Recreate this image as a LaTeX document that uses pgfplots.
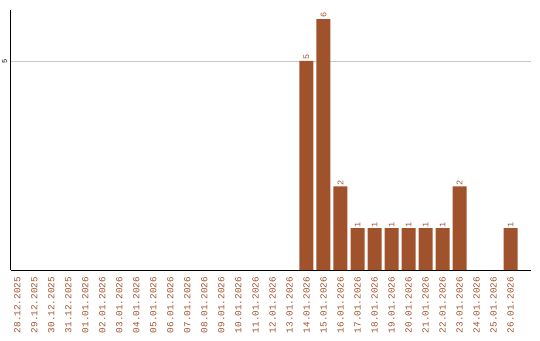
\documentclass[border=0pt]{standalone}
\usepackage{pgfplots}
\pgfplotsset{compat=1.18}
\usepackage{fontspec}
\setmainfont{Liberation Mono}
\definecolor{barc}{HTML}{A0522D}
\definecolor{gridc}{HTML}{C8C8C8}
\begin{document}
\begin{tikzpicture}
\path[use as bounding box] (0,0) rectangle (540pt,-340pt);
\begin{axis}[
  at={(10.5pt,-270pt)}, anchor=south west,
  scale only axis, width=520.5pt, height=260pt,
  xmin=-0.4, xmax=30.2, ymin=0, ymax=6.22,
  axis x line*=bottom, axis y line*=left,
  axis line style={black, thick, -},
  ytick={5}, yticklabel style={rotate=90, anchor=south, font=\fontsize{7}{8}\selectfont},
  /pgf/number format/assume math mode=true,
  ymajorgrids, grid style={gridc, line width=0.8pt},
  major tick length=0pt,
  xtick={0,...,29},
  xticklabels={28.12.2025,29.12.2025,30.12.2025,31.12.2025,01.01.2026,02.01.2026,03.01.2026,04.01.2026,05.01.2026,06.01.2026,07.01.2026,08.01.2026,09.01.2026,10.01.2026,11.01.2026,12.01.2026,13.01.2026,14.01.2026,15.01.2026,16.01.2026,17.01.2026,18.01.2026,19.01.2026,20.01.2026,21.01.2026,22.01.2026,23.01.2026,24.01.2026,25.01.2026,26.01.2026},
  xticklabel style={rotate=90, anchor=east, text=barc, font=\fontsize{9.3}{10}\selectfont, inner sep=0pt},
  xticklabel shift=7pt,
  ybar, bar width=14pt, bar shift=0pt,
  nodes near coords,
  every node near coord/.append style={rotate=90, anchor=west, text=barc, font=\fontsize{8.5}{9}\selectfont, inner sep=1pt},
  clip=false,
]
\addplot[fill=barc, draw=none] coordinates {
(17,5) (18,6) (19,2) (20,1) (21,1) (22,1) (23,1) (24,1) (25,1) (26,2) (29,1)
};
\end{axis}
\end{tikzpicture}
\end{document}
